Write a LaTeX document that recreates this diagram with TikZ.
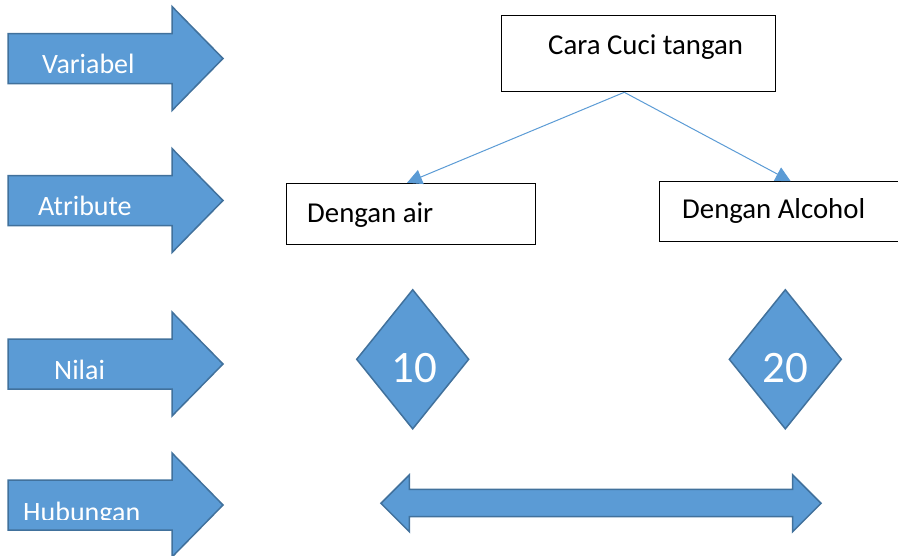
\documentclass[tikz,border=0pt]{standalone}
\usepackage{fontspec}
\setmainfont{Carlito}
\usetikzlibrary{shapes.geometric,arrows.meta}
\definecolor{shapeblue}{HTML}{5B9BD5}
\definecolor{edgeblue}{HTML}{41719C}

% block arrow pointing right, centred vertically on #1
\newcommand\rowarrow[1]{%
  \draw[arrowshape] (8,#1-25) -- (172,#1-25) -- (172,#1-52) -- (223,#1)
    -- (172,#1+52) -- (172,#1+25) -- (8,#1+25) -- cycle;}

\begin{document}
\begin{tikzpicture}[x=1pt,y=-1pt,
  arrowshape/.style={fill=shapeblue,draw=edgeblue,line width=1.5pt,line join=miter},
  arrowlabel/.style={anchor=base west,inner sep=0pt,text=white,
    font=\fontsize{28}{32}\selectfont},
  boxlabel/.style={anchor=base west,inner sep=0pt,text=black,
    font=\fontsize{28.8}{32}\selectfont},
  box/.style={draw=black,fill=white,line width=1pt,inner sep=0pt},
  gem/.style={diamond,fill=shapeblue,draw=edgeblue,line width=1.5pt,inner sep=0pt},
  gemlabel/.style={anchor=base,inner sep=0pt,text=white,
    font=\fontsize{45}{50}\selectfont},
  link/.style={draw=shapeblue,line width=1pt,
    -{Triangle[length=15pt,width=15pt,fill=shapeblue]}}]
\useasboundingbox (0,0) rectangle (898,555);

% row arrows on the left
\rowarrow{58.5}
\rowarrow{200.5}
\rowarrow{364}
\rowarrow{505}
\node[arrowlabel] (lvar) at (42,73) {Variabel};
\node[arrowlabel] (latr) at (38,215) {Atribute};
\node[arrowlabel] (lnil) at (54,379) {Nilai};
\begin{scope}
  \clip (0,470) rectangle (230,519.5);
  \node[arrowlabel] (lhub) at (23,521) {Hubungan};
\end{scope}

% variable box
\node[box,minimum width=274pt,minimum height=76pt] (top) at (638,53.8) {};
\node[boxlabel] (ttop) at (548,54) {Cara Cuci tangan};

% attribute boxes
\node[box,minimum width=249pt,minimum height=61pt] (air) at (410.5,213.7) {};
\node[boxlabel] (tair) at (307,222) {Dengan air};
\draw[box] (905,181.7) -- (659.3,181.7) -- (659.3,241.7) -- (905,241.7);
\node[boxlabel] (talc) at (682,218) {Dengan Alcohol};

% connectors from the variable to its attributes
\coordinate (apex) at ([xshift=-13.7pt]top.south);
\coordinate (airend) at (407,182.8);
\coordinate (alcend) at (790.7,181.2);
\draw[link] (apex) -- (airend);
\draw[link] (apex) -- (alcend);

% values
\node[gem,minimum width=112.6pt,minimum height=139.7pt] (d10) at (412.7,359.3) {};
\node[gemlabel] (t10) at (414.2,382.3) {10};
\node[gem,minimum width=112.6pt,minimum height=139.7pt] (d20) at (785.3,359.3) {};
\node[gemlabel] (t20) at (785.8,382.3) {20};

% relation: double-headed block arrow
\draw[arrowshape] (381,503.3) -- (409.3,475) -- (409.3,489.3) -- (792.7,489.3)
  -- (792.7,475) -- (821,503.3) -- (792.7,531.7) -- (792.7,516.7)
  -- (409.3,516.7) -- (409.3,531.7) -- cycle;
\end{tikzpicture}
\end{document}
